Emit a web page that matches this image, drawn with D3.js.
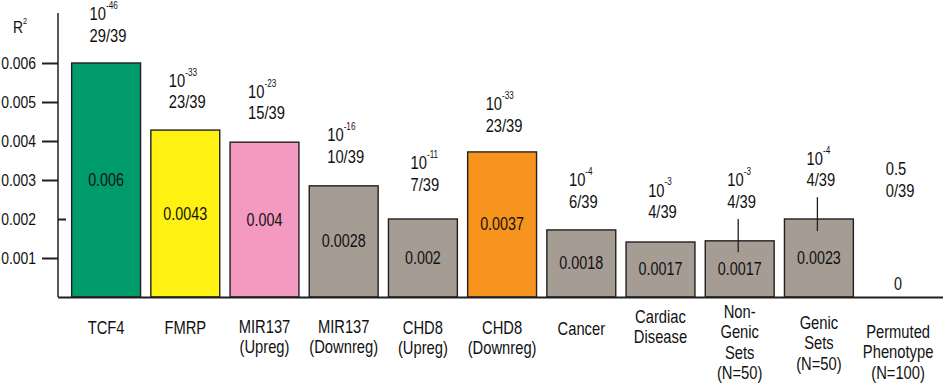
<!DOCTYPE html>
<html>
<head>
<meta charset="utf-8">
<script src="https://cdn.jsdelivr.net/npm/d3@7"></script>
<style>
  body { margin: 0; background: #fff; }
  svg text { font-family: "Liberation Sans", Arial, sans-serif; fill: #111; }
</style>
</head>
<body>
<svg id="chart"></svg>
<script>
// bar data, heights
var categories = ["TCF4", "FMRP", "MIR137\n(Upreg)", "MIR137\n(Downreg)", "CHD8\n(Upreg)", "CHD8\n(Downreg)",
  "Cancer", "Cardiac\nDisease", "Non-\nGenic\nSets\n(N=50)", "Genic\nSets\n(N=50)", "Permuted\nPhenotype\n(N=100)"];
var r2Values = [0.0060, 0.00428, 0.00397, 0.00285, 0.0020, 0.00372, 0.00172, 0.00141, 0.00144, 0.0020, 0];
var r2Labels = ["0.006", "0.0043", "0.004", "0.0028", "0.002", "0.0037", "0.0018", "0.0017", "0.0017", "0.0023", "0"];
var pValues = [1e-46, 1e-33, 1e-23, 1e-16, 1e-11, 1e-33, 1e-4, 1e-3, 1e-3, 1e-4, 0.5];
var hitCounts = ["29/39", "23/39", "15/39", "10/39", "7/39", "23/39", "6/39", "4/39", "4/39", "4/39", "0/39"];
var errLow = [null, null, null, null, null, null, null, null, 0.00115, 0.00169, null];
var errHigh = [null, null, null, null, null, null, null, null, 0.0020, 0.00256, null];
var yTicks = [0.001, 0.002, 0.003, 0.004, 0.005, 0.006];

// styles / layout
var barColors = ["#009b6a", "#fff212", "#f49ac1", "#a59c94", "#a59c94", "#f7941e",
  "#a59c94", "#a59c94", "#a59c94", "#a59c94", "#a59c94"];
var noteGap = [21, 22, 23, 23, 28, 20, 22, 24, 11, 11, 100];
var catLabelY = [334, 334, 333, 333, 334, 334, 335, 323, 318, 329, 338];

var width = 945;
var height = 389;
var axisX = 58;
var ink = "#231f20";
var squeeze = 0.82;   // narrow-font look

// squeeze a text horizontally around its anchor x
function condense(sel, ax) {
  sel.attr("transform", "matrix(" + squeeze + ",0,0,1," + (ax * (1 - squeeze)) + ",0)");
}

var svg = d3.select("#chart")
  .attr("width", width)
  .attr("height", height);

var x = d3.scaleBand()
  .domain(d3.range(categories.length))
  .range([66.5, 937.7])
  .paddingInner(0.13)
  .paddingOuter(0.065);

var y = d3.scaleLinear()
  .domain([0, 0.006])
  .range([297, 63]);

function cx(i) { return x(i) + x.bandwidth() / 2; }

// bars
svg.selectAll("rect.bar")
  .data(r2Values)
  .enter()
    .append("rect")
      .attr("class", "bar")
      .attr("x", function(d, i) { return x(i); })
      .attr("y", function(d) { return y(d); })
      .attr("width", x.bandwidth())
      .attr("height", function(d) { return y(0) - y(d); })
      .attr("fill", function(d, i) { return barColors[i]; })
      .attr("stroke", ink)
      .attr("stroke-width", 1.4)
      .style("display", function(d) { return d > 0 ? null : "none"; });

// whiskers
svg.selectAll("line.err")
  .data(d3.range(categories.length).filter(function(i) { return errHigh[i] != null; }))
  .enter()
    .append("line")
      .attr("class", "err")
      .attr("x1", function(i) { return cx(i) - 1.5; })
      .attr("x2", function(i) { return cx(i) - 1.5; })
      .attr("y1", function(i) { return y(errHigh[i]); })
      .attr("y2", function(i) { return y(errLow[i]); })
      .attr("stroke", ink)
      .attr("stroke-width", 1.3);

// value labels inside bars
r2Labels.forEach(function(d, i) {
  var top = y(r2Values[i]);
  var ty = (y(0) - top < 20) ? y(0) - 7 : (top + y(0)) / 2 + 6;
  svg.append("text")
    .attr("x", cx(i))
    .attr("y", ty)
    .attr("text-anchor", "middle")
    .style("font-size", "17.5px")
    .text(d)
    .call(condense, cx(i));
});

// p-value / count notes above bars
categories.forEach(function(c, i) {
  var top = errHigh[i] != null ? y(errHigh[i]) : y(r2Values[i]);
  var base2 = top - noteGap[i];
  var base1 = base2 - 21.5;
  var g = svg.append("g");
  var t1 = g.append("text").attr("y", base1).style("font-size", "18px");
  var p = pValues[i];
  if (p < 0.1) {
    t1.append("tspan").attr("class", "main").text("10");
    t1.append("tspan")
      .attr("dy", -11)
      .style("font-size", "10px")
      .text(Math.round(Math.log10(p)));
  } else {
    t1.append("tspan").attr("class", "main").text(p);
  }
  var t2 = g.append("text").attr("y", base2).style("font-size", "18px").text(hitCounts[i]);
  var w = squeeze * Math.max(t1.node().getComputedTextLength(), t2.node().getComputedTextLength());
  var left = cx(i) - w / 2 + 2;
  t1.select("tspan.main").attr("x", left);
  t2.attr("x", left);
  t1.call(condense, left);
  t2.call(condense, left);
});

// y axis
var yAxis = svg.append("g")
  .attr("transform", "translate(" + axisX + ",0)")
  .call(d3.axisLeft(y).tickValues(yTicks).tickSize(16).tickPadding(6).tickFormat(d3.format(".3f")));
yAxis.select(".domain").remove();
yAxis.selectAll(".tick line").attr("stroke", ink).attr("stroke-width", 2);
yAxis.selectAll(".tick line").filter(function(d) { return d === 0.002; }).attr("x2", 8);
yAxis.selectAll(".tick text")
  .attr("fill", "#111")
  .style("font-size", "17px")
  .style("font-family", "'Liberation Sans', Arial, sans-serif")
  .each(function() { d3.select(this).call(condense, -22); });

svg.append("line")
  .attr("x1", axisX).attr("x2", axisX)
  .attr("y1", 13).attr("y2", y(0))
  .attr("stroke", ink)
  .attr("stroke-width", 1.5);

svg.append("line")
  .attr("x1", axisX).attr("x2", 943)
  .attr("y1", y(0) + 0.5).attr("y2", y(0) + 0.5)
  .attr("stroke", ink)
  .attr("stroke-width", 2);

var r2 = svg.append("text")
  .attr("x", 13)
  .attr("y", 33)
  .style("font-size", "17px");
r2.append("tspan").text("R");
r2.append("tspan").attr("dy", -9).style("font-size", "9px").text("2");
r2.call(condense, 13);

// category labels
categories.forEach(function(c, i) {
  var t = svg.append("text")
    .attr("text-anchor", "middle")
    .attr("y", catLabelY[i])
    .style("font-size", "18px");
  c.split("\n").forEach(function(line, k) {
    t.append("tspan")
      .attr("x", cx(i))
      .attr("dy", k === 0 ? 0 : 20.5)
      .text(line);
  });
  t.call(condense, cx(i));
});
</script>
</body>
</html>
